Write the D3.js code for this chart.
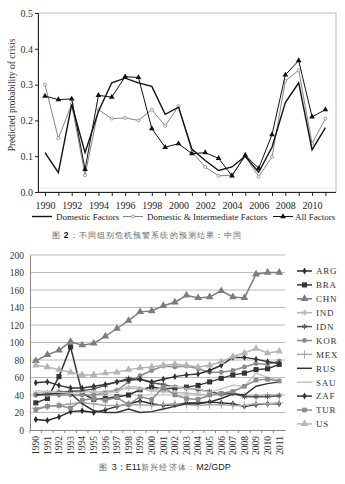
<!DOCTYPE html>
<html><head><meta charset="utf-8">
<script src="https://cdn.jsdelivr.net/npm/d3@7"></script>
<style>
html,body{margin:0;padding:0;background:#fff;}
svg{display:block;}
text{font-family:"Liberation Serif","Times New Roman",serif;}
</style></head>
<body>
<svg id="c" width="345" height="484"></svg>
<script>
// ---------- Chart 1 data ----------
const years1 = [1990,1991,1992,1993,1994,1995,1996,1997,1998,1999,2000,2001,2002,2003,2004,2005,2006,2007,2008,2009,2010,2011];
const xTickLabels1 = [1990,1992,1994,1996,1998,2000,2002,2004,2006,2008,2010];
const yTicks1 = [0.0,0.1,0.2,0.3,0.4,0.5];
const domestic = [0.11,0.054,0.245,0.11,0.225,0.305,0.318,0.305,0.295,0.217,0.237,0.12,0.088,0.06,0.07,0.10,0.055,0.125,0.25,0.305,0.118,0.18];
const domInter = [0.30,0.15,0.245,0.047,0.23,0.205,0.207,0.20,0.23,0.185,0.24,0.112,0.07,0.045,0.047,0.10,0.043,0.098,0.31,0.34,0.135,0.205];
const allFactors = [0.268,0.258,0.26,0.063,0.27,0.265,0.322,0.32,0.177,0.125,0.135,0.107,0.11,0.094,0.045,0.103,0.066,0.16,0.327,0.367,0.21,0.23];

// ---------- Chart 2 data ----------
const years2 = ["1990","1991","1992","1993","1994","1995","1996","1997","1998","1999","2000","2001","2002","2003","2004","2005","2006","2007","2008","2009","2010","2011"];
const yTicks2 = [0,20,40,60,80,100,120,140,160,180,200];
const countries = ["ARG","BRA","CHN","IND","IDN","KOR","MEX","RUS","SAU","ZAF","TUR","US"];
const ARG = [12,11,15,21,22,20,23,27,30,33,30,28,29,31,31,32,31,30,27,29,30,30];
const BRA = [31,36,61,95,42,35,36,38,40,46,49,47,48,49,51,55,59,63,65,69,70,75];
const CHN = [79,86,91,101,97,99,107,116,125,135,136,142,146,154,151,152,159,152,151,178,180,180];
const IND = [42,43,44,44,45,43,44,46,48,47,45,44,43,42,41,40,41,42,40,39,40,40];
const IDN = [40,41,43,44,45,47,51,55,59,58,54,52,49,48,46,44,41,42,38,38,38,39];
const KOR = [40,40,40,40,40,40,42,45,55,62,68,73,72,73,70,66,66,68,72,76,75,79];
const MEX = [25,27,28,30,31,30,28,28,29,29,28,29,30,29,28,29,29,28,28,30,30,31];
const RUS = [40,41,42,42,30,22,20,20,24,20,21,24,27,30,30,32,36,41,40,50,53,55];
const SAU = [45,44,43,42,43,44,42,44,50,49,44,49,50,47,47,43,47,51,50,65,60,57];
const ZAF = [54,55,51,48,48,50,52,55,57,58,55,58,61,63,64,68,74,83,83,81,78,76];
const TUR = [23,27,28,25,34,36,34,37,29,38,35,49,40,36,35,40,42,44,50,57,58,56];
const US  = [74,72,69,66,63,63,65,66,69,71,72,74,75,74,72,74,78,84,88,93,88,90];

const svg = d3.select("#c");

// ================= Chart 1 =================
const x1 = d3.scaleLinear().domain([1990,2011]).range([45,325.4]);
const y1 = d3.scaleLinear().domain([0,0.5]).range([192,13]);
const g1 = svg.append("g");
g1.append("rect").attr("x",38).attr("y",13).attr("width",298).attr("height",179)
  .attr("fill","none").attr("stroke","#aaa").attr("stroke-width",0.8);
g1.append("line").attr("x1",38).attr("x2",336).attr("y1",188).attr("y2",188).attr("stroke","#ddd").attr("stroke-width",0.6);

const ax1 = d3.axisBottom(x1).tickValues(years1).tickSize(4).tickFormat(d=> xTickLabels1.includes(d)? d : "");
const gx1 = g1.append("g").attr("transform","translate(0,192)").call(ax1);
gx1.select(".domain").attr("d","M38,0.5H336").attr("stroke","#222");
gx1.selectAll("line").attr("stroke","#222");
gx1.selectAll("text").attr("font-size",10).attr("fill","#222").attr("dy","0.95em").attr("font-family","Liberation Serif, serif");

const ay1 = d3.axisLeft(y1).tickValues(yTicks1).tickSize(3).tickFormat(d3.format(".1f"));
const gy1 = g1.append("g").attr("transform","translate(38,0)").call(ay1);
gy1.select(".domain").attr("stroke","#222");
gy1.selectAll("line").attr("stroke","#222");
gy1.selectAll("text").attr("font-size",10).attr("fill","#333").attr("x",-5).attr("font-family","Liberation Serif, serif");

g1.append("text").attr("transform","translate(15,95) rotate(-90)").attr("text-anchor","middle")
  .attr("font-size",9.5).attr("fill","#333").text("Predicted probability of crisis");

const line1 = d3.line().x((d,i)=>x1(years1[i])).y(d=>y1(d));
g1.append("path").datum(domInter).attr("d",line1).attr("fill","none").attr("stroke","#777").attr("stroke-width",0.9);
g1.selectAll(".di").data(domInter).enter().append("circle").attr("cx",(d,i)=>x1(years1[i])).attr("cy",d=>y1(d))
  .attr("r",1.5).attr("fill","#fff").attr("stroke","#777").attr("stroke-width",0.7);
g1.append("path").datum(domestic).attr("d",line1).attr("fill","none").attr("stroke","#111").attr("stroke-width",1.4);
g1.append("path").datum(allFactors).attr("d",line1).attr("fill","none").attr("stroke","#111").attr("stroke-width",1);
const tri = d3.symbol().type(d3.symbolTriangle).size(14);
g1.selectAll(".af").data(allFactors).enter().append("path").attr("d",tri)
  .attr("transform",(d,i)=>`translate(${x1(years1[i])},${y1(d)})`).attr("fill","#111");

// legend 1
const lg1 = g1.append("g").attr("font-size",9).attr("fill","#222");
lg1.append("line").attr("x1",32).attr("x2",52).attr("y1",216.5).attr("y2",216.5).attr("stroke","#111").attr("stroke-width",1.4);
lg1.append("text").attr("x",56).attr("y",219.5).attr("fill","#222").text("Domestic Factors");
lg1.append("line").attr("x1",123).attr("x2",143).attr("y1",216.5).attr("y2",216.5).attr("stroke","#777").attr("stroke-width",0.9);
lg1.append("circle").attr("cx",133).attr("cy",216.5).attr("r",1.5).attr("fill","#fff").attr("stroke","#777").attr("stroke-width",0.7);
lg1.append("text").attr("x",147).attr("y",219.5).attr("fill","#222").text("Domestic & Intermediate Factors");
lg1.append("line").attr("x1",273).attr("x2",293).attr("y1",216.5).attr("y2",216.5).attr("stroke","#111").attr("stroke-width",1);
lg1.append("path").attr("d",tri).attr("transform","translate(283,216.5)").attr("fill","#111");
lg1.append("text").attr("x",295).attr("y",219.5).attr("fill","#222").text("All Factors");

const cap1 = svg.append("text").attr("x",147).attr("y",238).attr("text-anchor","middle")
  .attr("font-family","Noto Sans CJK SC, sans-serif").attr("font-size",7.5).attr("letter-spacing",1.1).attr("fill","#666");
cap1.append("tspan").text("图 ");
cap1.append("tspan").attr("fill","#111").attr("font-weight","bold").attr("font-family","Liberation Sans, sans-serif").attr("font-size",8.5).text("2");
cap1.append("tspan").text("：不同组别危机预警系统的预测结果：中国");

// ================= Chart 2 =================
const x2 = d3.scaleBand().domain(years2).range([30,285]);
const y2 = d3.scaleLinear().domain([0,200]).range([430,255]);
const g2 = svg.append("g");
g2.selectAll(".grid").data(yTicks2.filter(d=>d>0)).enter().append("line")
  .attr("x1",30).attr("x2",285).attr("y1",d=>y2(d)).attr("y2",d=>y2(d)).attr("stroke","#a8a8a8").attr("stroke-width",0.8);
const ay2 = d3.axisLeft(y2).tickValues(yTicks2).tickSize(0);
const gy2 = g2.append("g").attr("transform","translate(30,0)").call(ay2);
gy2.select(".domain").attr("stroke","#888");
gy2.selectAll("text").attr("font-size",9.5).attr("fill","#333").attr("x",-6).attr("font-family","Liberation Serif, serif");
const ax2 = d3.axisBottom(x2).tickSize(0);
const gx2 = g2.append("g").attr("transform","translate(0,430)").call(ax2);
gx2.select(".domain").attr("stroke","#888");
gx2.selectAll("text").attr("font-size",9.5).attr("fill","#333").attr("font-family","Liberation Serif, serif")
  .attr("transform","rotate(-90)").attr("text-anchor","end").attr("x",-6).attr("y",0).attr("dy","0.35em");
g2.selectAll(".xt").data(years2).enter().append("line")
  .attr("x1",d=>x2(d)).attr("x2",d=>x2(d)).attr("y1",430).attr("y2",433).attr("stroke","#888");

const series = {ARG,BRA,CHN,IND,IDN,KOR,MEX,RUS,SAU,ZAF,TUR,US};
const sty = {
  ARG:{c:"#2a2a2a",m:"diamond",s:14},
  BRA:{c:"#333",m:"square",s:26},
  CHN:{c:"#7c7c7c",m:"triangle",s:26},
  IND:{c:"#b8b8b8",m:"asterisk",s:24},
  IDN:{c:"#555",m:"asterisk",s:20},
  KOR:{c:"#8a8a8a",m:"circle",s:18},
  MEX:{c:"#a8a8a8",m:"plus",s:24},
  RUS:{c:"#333",m:null,s:0},
  SAU:{c:"#c4c4c4",m:null,s:0},
  ZAF:{c:"#333",m:"diamond",s:14},
  TUR:{c:"#8c8c8c",m:"square",s:22},
  US:{c:"#b4b4b4",m:"triangle",s:24}
};
const symType = {
  diamond:d3.symbolDiamond, square:d3.symbolSquare, triangle:d3.symbolTriangle, circle:d3.symbolCircle,
  asterisk:(d3.symbolAsterisk||d3.symbolCross), plus:(d3.symbolPlus||d3.symbolCross)
};
const strokeSyms = ["asterisk","plus"];
const line2 = d3.line().x((d,i)=>x2(years2[i])+x2.bandwidth()/2).y(d=>y2(d));
function drawMarker(sel, st){
  const p = sel.append("path").attr("d", d3.symbol().type(symType[st.m]).size(st.s));
  if(strokeSyms.includes(st.m)) p.attr("fill","none").attr("stroke",st.c).attr("stroke-width",1);
  else p.attr("fill",st.c);
  return p;
}
countries.forEach(k=>{
  const st = sty[k];
  const gs = g2.append("g");
  gs.append("path").datum(series[k]).attr("d",line2).attr("fill","none").attr("stroke",st.c).attr("stroke-width",1.5);
  if(st.m){
    series[k].forEach((v,i)=>{
      const m = gs.append("g").attr("transform",`translate(${x2(years2[i])+x2.bandwidth()/2},${y2(v)})`);
      drawMarker(m, st);
    });
  }
});

// legend 2
const lg2 = g2.append("g");
countries.forEach((k,i)=>{
  const st = sty[k];
  const yy = 271 + i*13.9;
  lg2.append("line").attr("x1",297).attr("x2",312).attr("y1",yy).attr("y2",yy).attr("stroke",st.c).attr("stroke-width",1.5);
  if(st.m){ const m = lg2.append("g").attr("transform",`translate(304.5,${yy})`); drawMarker(m, st); }
  lg2.append("text").attr("x",316).attr("y",yy+3.3).attr("font-size",9).attr("letter-spacing",0.8).attr("fill","#333").text(k);
});

const cap2 = svg.append("text").attr("x",165).attr("y",470).attr("text-anchor","middle")
  .attr("font-family","Noto Sans CJK SC, sans-serif").attr("font-size",8).attr("fill","#666");
cap2.append("tspan").attr("letter-spacing",1.2).text("图 ");
cap2.append("tspan").attr("fill","#222").attr("font-family","Liberation Sans, sans-serif").attr("font-size",9).text("3：E11");
cap2.append("tspan").attr("letter-spacing",1.2).text("新兴经济体：");
cap2.append("tspan").attr("fill","#222").attr("font-family","Liberation Sans, sans-serif").attr("font-size",9).text("M2/GDP");
</script>
</body></html>
